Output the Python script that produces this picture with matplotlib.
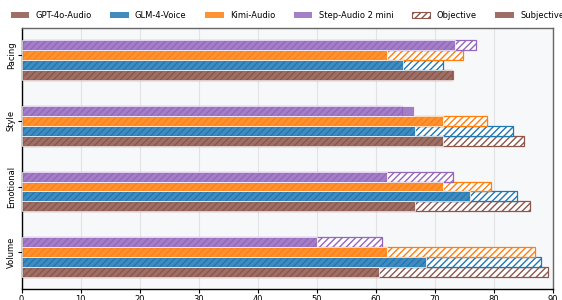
import matplotlib
matplotlib.use("Agg")
import matplotlib.pyplot as plt
import numpy as np
from matplotlib.patches import Patch

categories = ["Volume", "Emotional", "Style", "Pacing"]
models = ["GPT-4o-Audio", "GLM-4-Voice", "Kimi-Audio", "Step-Audio 2 mini"]
colors = ["#8c564b", "#1f77b4", "#ff7f0e", "#9467bd"]

# objective / subjective scores per model, ordered as categories
objective = {
    "GPT-4o-Audio":      [89.2, 86.1, 85.1, 73.0],
    "GLM-4-Voice":       [88.0, 83.9, 83.2, 71.4],
    "Kimi-Audio":        [87.0, 79.5, 78.8, 74.8],
    "Step-Audio 2 mini": [61.0, 73.1, 64.4, 77.0],
}
subjective = {
    "GPT-4o-Audio":      [60.6, 66.6, 71.4, 73.3],
    "GLM-4-Voice":       [68.6, 76.0, 66.6, 64.6],
    "Kimi-Audio":        [62.0, 71.4, 71.4, 62.0],
    "Step-Audio 2 mini": [50.0, 62.0, 66.5, 73.4],
}

plt.rcParams["font.family"] = ["DejaVu Sans"]
fig = plt.figure(figsize=(5.62, 3.0), dpi=100)
ax = fig.add_axes([21.5 / 562, 1 - 289 / 300, (552.7 - 21.5) / 562, (289 - 28.3) / 300])
ax.set_facecolor("#f7f8fa")

y = np.arange(len(categories))
h = 0.15
for j, (m, c) in enumerate(zip(models, colors)):
    pos = y + (j - 2) * h
    ax.barh(pos, objective[m], height=h, facecolor="white", edgecolor=c,
            hatch="/////", linewidth=0.9, zorder=2)
    ax.barh(pos, subjective[m], height=h, color=c, alpha=0.85,
            edgecolor="white", linewidth=0.6, zorder=3)

ax.set_xlim(0, 90)
ax.set_ylim(-0.56, 3.41)
ax.set_xticks(np.arange(0, 91, 10))
ax.set_yticks(y)
ax.set_yticklabels(categories, rotation=90, va="center")
ax.tick_params(axis="both", labelsize=6, length=2.7, width=0.8, pad=1.3)
ax.grid(axis="x", color="#e3e3e6", linewidth=0.8, zorder=0)
ax.set_axisbelow(True)
for s in ["left", "bottom"]:
    ax.spines[s].set_color("black")
    ax.spines[s].set_linewidth(1.0)
for s in ["top", "right"]:
    ax.spines[s].set_color("#666666")
    ax.spines[s].set_linewidth(1.0)

handles = [Patch(facecolor=c, alpha=0.85, edgecolor="none") for c in colors]
handles.append(Patch(facecolor="white", edgecolor=colors[0], hatch="/////", linewidth=0.8))
handles.append(Patch(facecolor=colors[0], alpha=0.85, edgecolor="none"))
labels = models + ["Objective", "Subjective"]
fig.legend(handles, labels, loc="center left", bbox_to_anchor=(10.8 / 562, 1 - 15.5 / 300),
           ncol=6, frameon=False, fontsize=6.0, handlelength=2.2, handleheight=0.85,
           handletextpad=0.75, columnspacing=2.25, borderaxespad=0, borderpad=0)

fig.savefig("out.png", dpi=100)
